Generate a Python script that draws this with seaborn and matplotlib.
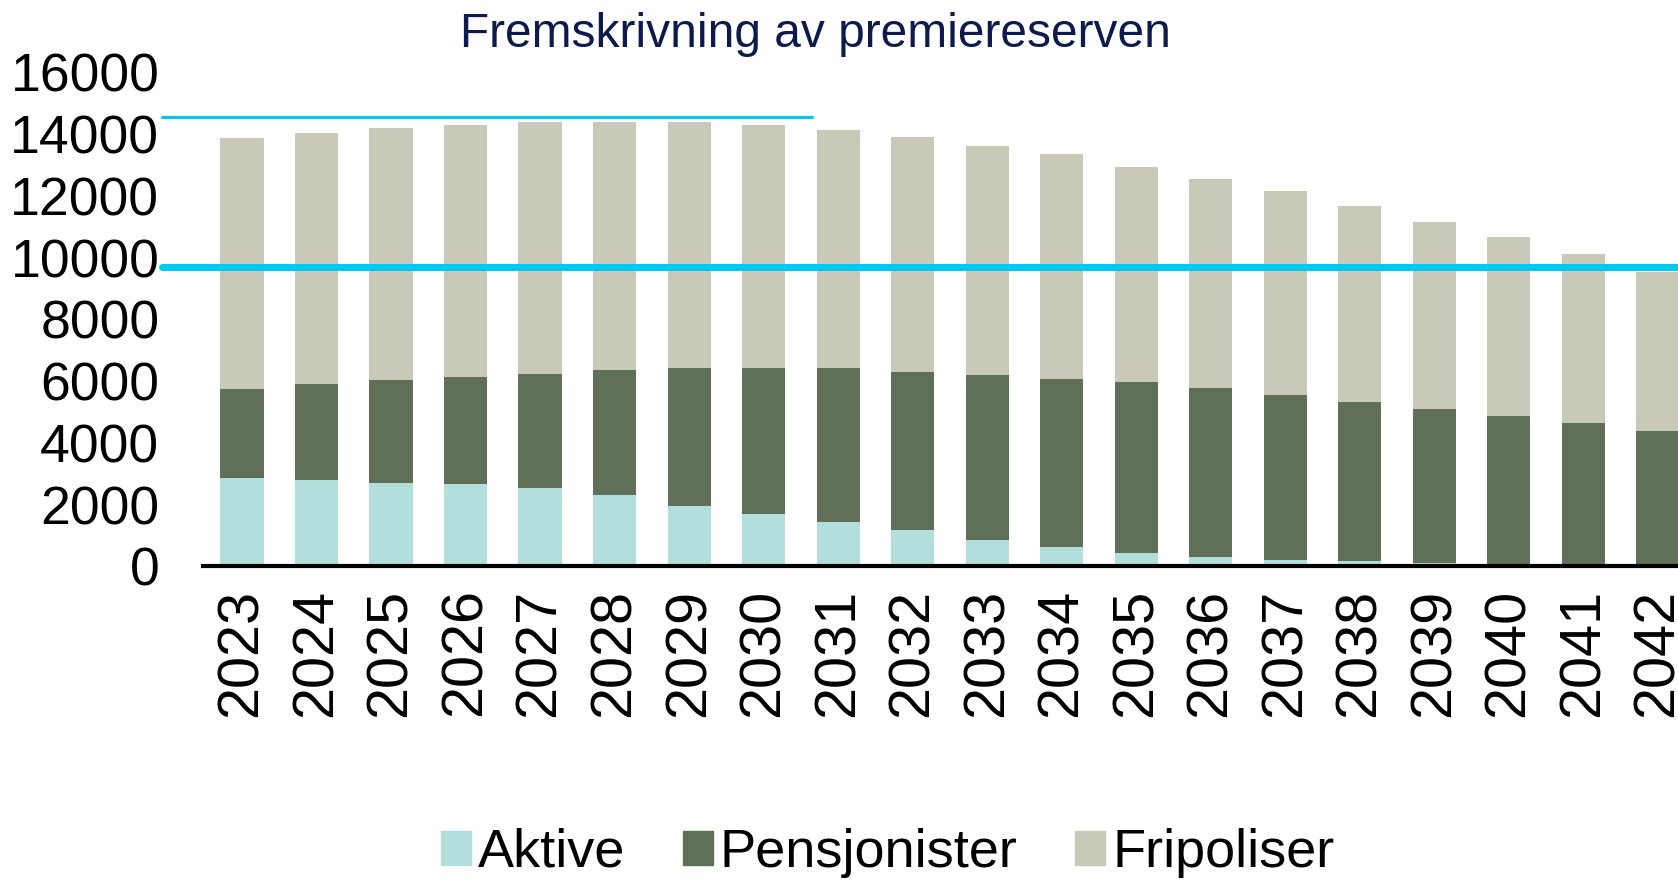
import numpy as np
import pandas as pd
import matplotlib
matplotlib.use("Agg")
import matplotlib.pyplot as plt
from matplotlib.patches import Patch
import seaborn as sns

# data (stacked: Aktive, Pensjonister, Fripoliser)
years = [str(y) for y in range(2023, 2043)]
aktive = [2860, 2790, 2710, 2650, 2530, 2300, 1960, 1700, 1420, 1170,
          860, 630, 440, 300, 215, 170, 110, 85, 30, 0]
pensjonister = [2870, 3110, 3310, 3490, 3700, 4050, 4450, 4710, 4990, 5130,
                5350, 5450, 5520, 5490, 5335, 5160, 4970, 4775, 4620, 4380]
fripoliser = [8150, 8130, 8170, 8160, 8160, 8040, 7980, 7870, 7710, 7620,
              7400, 7270, 6980, 6770, 6610, 6340, 6080, 5790, 5480, 5160]
ref_thick = 9700
ref_thin = 14550
yticks = [0, 2000, 4000, 6000, 8000, 10000, 12000, 14000, 16000]

c_akt = "#b2dedb"
c_pen = "#606f58"
c_fri = "#c8c9b9"
c_line = "#00c8f0"

df = pd.DataFrame({"year": years, "Aktive": aktive,
                   "Pensjonister": pensjonister, "Fripoliser": fripoliser})
df["top_pen"] = df["Aktive"] + df["Pensjonister"]
df["top_fri"] = df["top_pen"] + df["Fripoliser"]

sns.set_theme(style="white")
plt.rcParams["font.family"] = ["Liberation Sans", "DejaVu Sans"]

fig = plt.figure(figsize=(16.78, 8.82), dpi=100)
ax = fig.add_axes([0.121, 0.358, 0.879, 0.560])

# layered bars make the stack
sns.barplot(data=df, x="year", y="top_fri", color=c_fri, width=0.58,
            linewidth=0, saturation=1, ax=ax)
sns.barplot(data=df, x="year", y="top_pen", color=c_pen, width=0.58,
            linewidth=0, saturation=1, ax=ax)
sns.barplot(data=df, x="year", y="Aktive", color=c_akt, width=0.58,
            linewidth=0, saturation=1, ax=ax)

ax.axhline(ref_thick, xmin=-0.028, xmax=1, color=c_line, lw=5, clip_on=False, zorder=5)
ax.axhline(ref_thin, xmin=-0.028, xmax=0.413, color=c_line, lw=2.2, clip_on=False, zorder=5)

ax.set_xlim(-0.523, 19.27)
ax.set_ylim(0, 16000)
ax.set_yticks(yticks)
ax.set_yticklabels([str(t) for t in yticks])
ax.set_xlabel("")
ax.set_ylabel("")
ax.tick_params(axis="y", length=0, pad=31.5, labelsize=38.5, labelcolor="black")
ax.tick_params(axis="x", length=0, pad=16, labelsize=41.5, labelcolor="black",
               labelrotation=90)

for s in ["top", "right", "left"]:
    ax.spines[s].set_visible(False)
ax.spines["bottom"].set_color("black")
ax.spines["bottom"].set_linewidth(3)
ax.spines["bottom"].set_zorder(6)

fig.text(0.486, 0.961, "Fremskrivning av premiereserven", ha="center", va="center",
         fontsize=34.5, color="#0d1b4c")

handles = [Patch(color=c_akt, label="Aktive"),
           Patch(color=c_pen, label="Pensjonister"),
           Patch(color=c_fri, label="Fripoliser")]
fig.legend(handles=handles, loc="center", bbox_to_anchor=(0.529, 0.033), ncol=3,
           frameon=False, fontsize=39, handlelength=0.56, handleheight=0.6,
           handletextpad=0.13, columnspacing=1.05, borderpad=0, borderaxespad=0,
           labelcolor="black")

fig.savefig("out.png", dpi=100)
